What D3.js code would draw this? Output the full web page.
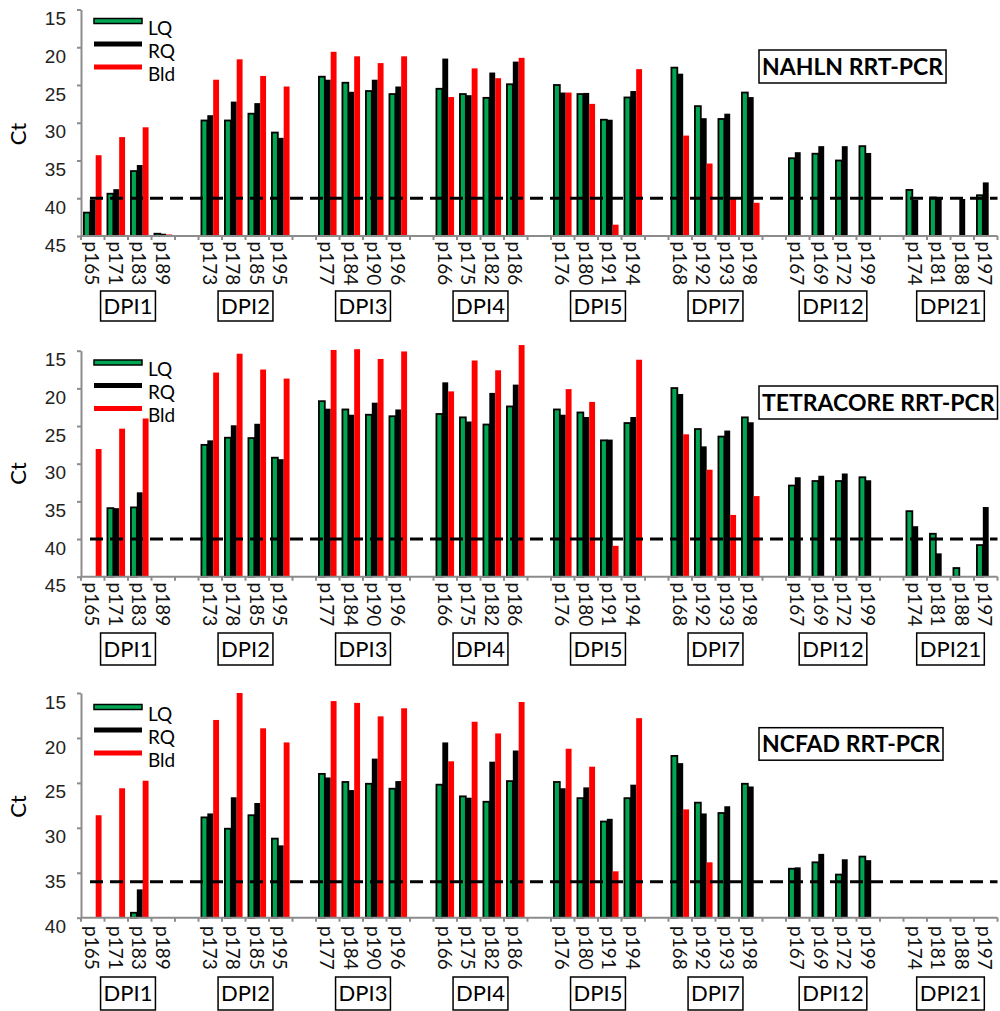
<!DOCTYPE html>
<html>
<head>
<meta charset="utf-8">
<script src="https://cdn.jsdelivr.net/npm/d3@7"></script>
<style>
  body { margin: 0; background: #fff; }
  svg { font-family: Lato, "Open Sans", sans-serif; }
</style>
</head>
<body>
<div id="chart"></div>
<script>
// groups and pigs (x categories)
const dpiGroups = ["DPI1", "DPI2", "DPI3", "DPI4", "DPI5", "DPI7", "DPI12", "DPI21"];
const pigsByGroup = [
    ["p165", "p171", "p183", "p189"],
    ["p173", "p178", "p185", "p195"],
    ["p177", "p184", "p190", "p196"],
    ["p166", "p175", "p182", "p186"],
    ["p176", "p180", "p191", "p194"],
    ["p168", "p192", "p193", "p198"],
    ["p167", "p169", "p172", "p199"],
    ["p174", "p181", "p188", "p197"]
];
const seriesNames = ["LQ", "RQ", "Bld"];
const seriesColors = ["#00a651", "#000000", "#ff0000"];

// Ct values, same pig order as above (null = no value)
const nahlnLQ = [41.9, 39.4, 36.4, 44.7, 29.7, 29.7, 28.8, 31.3, 23.9, 24.7, 25.8, 26.2, 25.5, 26.2, 26.7, 24.9,
    25.0, 26.2, 29.6, 26.65, 22.7, 27.8, 29.5, 26.0, 34.7, 34.1, 35.0, 33.1, 38.9, 39.9, null, 39.6];
const nahlnRQ = [40.2, 38.8, 35.6, 44.7, 29.0, 27.2, 27.4, 32.0, 24.3, 25.9, 24.3, 25.2, 21.5, 26.35, 23.35, 21.9,
    26.0, 26.05, 29.6, 25.8, 23.5, 29.4, 28.8, 26.6, 33.9, 33.1, 33.1, 34.0, 40.2, 39.9, 40.1, 37.9];
const nahlnBld = [34.3, 31.9, 30.6, 44.8, 24.3, 21.6, 23.8, 25.2, 20.6, 21.2, 22.1, 21.2, 26.6, 22.8, 24.1, 21.4,
    26.0, 27.5, 43.5, 22.9, 31.7, 35.4, 40.1, 40.6, null, null, null, null, null, null, null, null];

const tetraLQ = [null, 35.9, 35.8, null, 27.5, 26.55, 26.6, 29.2, 21.7, 22.8, 23.5, 23.7, 23.4, 23.85, 24.8, 22.4,
    22.8, 23.2, 26.9, 24.6, 19.96, 25.4, 26.4, 23.85, 32.9, 32.3, 32.3, 31.8, 36.3, 39.3, 43.85, 40.8];
const tetraRQ = [null, 35.9, 33.8, null, 26.9, 24.9, 24.7, 29.4, 22.7, 23.5, 21.9, 22.8, 19.2, 24.4, 20.6, 19.5,
    23.5, 23.8, 26.8, 23.8, 20.75, 27.7, 25.6, 24.5, 31.8, 31.6, 31.3, 32.2, 38.3, 41.9, null, 35.75];
const tetraBld = [28.05, 25.35, 24.0, null, 17.9, 15.4, 17.5, 18.7, 14.9, 14.8, 16.1, 15.1, 20.4, 16.3, 17.6, 14.25,
    20.1, 21.8, 40.9, 16.2, 26.1, 30.8, 36.8, 34.3, null, null, null, null, null, null, null, null];

const ncfadLQ = [null, null, 39.45, null, 28.84, 30.1, 28.6, 31.2, 24.0, 24.9, 25.1, 25.65, 25.2, 26.5, 27.1, 24.8,
    24.9, 26.7, 29.3, 26.7, 22.0, 27.2, 28.35, 25.1, 34.55, 33.84, 35.2, 33.2, null, null, null, null];
const ncfadRQ = [null, null, 36.85, null, 28.4, 26.6, 27.24, 31.95, 24.4, 25.8, 22.3, 24.8, 20.5, 26.65, 22.64, 21.4,
    25.6, 25.5, 29.0, 25.2, 22.8, 28.4, 27.6, 25.4, 34.4, 32.9, 33.5, 33.6, null, null, null, null];
const ncfadBld = [28.6, 25.6, 24.76, null, 18.0, 15.0, 18.93, 20.5, 15.9, 16.1, 17.6, 16.7, 22.6, 18.2, 19.5, 16.0,
    21.2, 23.2, 34.84, 17.8, 27.95, 33.84, null, null, null, null, null, null, null, null, null, null];

const panelTitles = ["NAHLN RRT-PCR", "TETRACORE RRT-PCR", "NCFAD RRT-PCR"];
const panelDomains = [[15, 45], [15, 45], [15, 40]];
const panelCutoffs = [40, 40, 36];
const yTicks = [[15, 20, 25, 30, 35, 40, 45], [15, 20, 25, 30, 35, 40, 45], [15, 20, 25, 30, 35, 40]];
const panelSeries = [[nahlnLQ, nahlnRQ, nahlnBld], [tetraLQ, tetraRQ, tetraBld], [ncfadLQ, ncfadRQ, ncfadBld]];

// layout of each panel (pixels)
const layouts = [
    { top: 9.5, bottom: 236, ctY: 134, legendY: 21, titleY: 50, titleH: 33, labelY: 241.5, boxY: 291, boxH: 30 },
    { top: 350.7, bottom: 576.7, ctY: 473.5, legendY: 362.5, titleY: 386, titleH: 33, labelY: 582.5, boxY: 633, boxH: 32 },
    { top: 693, bottom: 917.7, ctY: 806.5, legendY: 707, titleY: 727.7, titleH: 32.5, labelY: 926, boxY: 977, boxH: 33 }
];

const axisLeftX = 81, axisRightX = 997.5;
const axisColor = "#8c8c8c";

const svg = d3.select("#chart").append("svg")
    .attr("width", 1000)
    .attr("height", 1011);

// slot keys: pigs, with an empty slot between groups
const slots = [];
pigsByGroup.forEach((pigs, gi) => {
    pigs.forEach(p => slots.push(p));
    if (gi < pigsByGroup.length - 1) slots.push("gap" + gi);
});
const pigs = pigsByGroup.flat();

const x = d3.scaleBand().domain(slots).range([axisLeftX, axisRightX]).padding(0);
const xInner = d3.scaleBand().domain(seriesNames).range([0, x.bandwidth()]).paddingInner(0).paddingOuter(0.5);

function drawPanel(pi) {
    const L = layouts[pi];
    const g = svg.append("g").attr("class", "panel");
    const y = d3.scaleLinear().domain(panelDomains[pi]).range([L.top, L.bottom]);
    const base = y(panelDomains[pi][1]);

    // bars
    seriesNames.forEach((s, si) => {
        const vals = panelSeries[pi][si];
        const data = pigs.map((p, i) => ({ pig: p, value: vals[i] })).filter(d => d.value != null);
        g.append("g").selectAll("rect")
            .data(data)
            .enter()
            .append("rect")
            .attr("x", d => x(d.pig) + xInner(s))
            .attr("y", d => y(d.value))
            .attr("width", xInner.bandwidth())
            .attr("height", d => base - y(d.value))
            .attr("fill", seriesColors[si])
            .attr("stroke", si === 0 ? "#000" : "none")
            .attr("stroke-width", si === 0 ? 1.8 : 0);
    });

    // y axis
    const yAxis = g.append("g")
        .attr("transform", `translate(${axisLeftX},0)`)
        .call(d3.axisLeft(y).tickValues(yTicks[pi]).tickSize(4).tickPadding(11).tickSizeOuter(0));
    yAxis.select(".domain").attr("stroke", axisColor).attr("stroke-width", 2);
    yAxis.selectAll(".tick line").attr("stroke", axisColor).attr("stroke-width", 2);
    yAxis.selectAll(".tick text")
        .attr("y", 9)
        .style("font-size", "19px")
        .attr("fill", "#222");

    // x axis line and ticks at slot boundaries
    g.append("line")
        .attr("x1", axisLeftX).attr("x2", axisRightX)
        .attr("y1", base).attr("y2", base)
        .attr("stroke", axisColor).attr("stroke-width", 2);
    const bounds = slots.map(s => x(s)).concat([axisRightX]);
    g.append("g").selectAll("line")
        .data(bounds)
        .enter()
        .append("line")
        .attr("x1", d => d).attr("x2", d => d)
        .attr("y1", base).attr("y2", base + 4)
        .attr("stroke", axisColor).attr("stroke-width", 2);

    // pig labels (rotated)
    g.append("g").selectAll("text")
        .data(pigs)
        .enter()
        .append("text")
        .attr("transform", d => `translate(${x(d) + x.bandwidth() / 2 - 1},${L.labelY}) rotate(90)`)
        .attr("dy", "0.35em")
        .style("font-size", "19px")
        .attr("fill", "#111")
        .text(d => d);

    // cutoff line
    g.append("line")
        .attr("x1", 90).attr("x2", axisRightX)
        .attr("y1", y(panelCutoffs[pi])).attr("y2", y(panelCutoffs[pi]))
        .attr("stroke", "#000")
        .attr("stroke-width", 3)
        .attr("stroke-dasharray", "13 7");

    // Ct label
    g.append("text")
        .attr("transform", `translate(18,${L.ctY}) rotate(-90)`)
        .attr("text-anchor", "middle")
        .attr("dy", "0.35em")
        .style("font-size", "22px")
        .text("Ct");

    // group boxes
    const boxes = g.append("g").attr("class", "dpi-boxes");
    pigsByGroup.forEach((grp, gi) => {
        const cx = (x(grp[0]) + x(grp[grp.length - 1]) + x.bandwidth()) / 2;
        const t = boxes.append("text")
            .attr("x", cx)
            .attr("y", L.boxY + L.boxH / 2)
            .attr("text-anchor", "middle")
            .attr("dy", "0.36em")
            .style("font-size", "22px")
            .text(dpiGroups[gi]);
        const w = t.node().getComputedTextLength() + 6;
        boxes.append("rect")
            .attr("x", cx - w / 2)
            .attr("y", L.boxY)
            .attr("width", w)
            .attr("height", L.boxH)
            .attr("fill", "none")
            .attr("stroke", "#000")
            .attr("stroke-width", 1.5);
    });

    // legend
    const legend = g.append("g").attr("class", "legend");
    seriesNames.forEach((s, si) => {
        const cy = L.legendY + si * 23;
        legend.append("rect")
            .attr("x", 94).attr("y", cy - 2.5)
            .attr("width", 48).attr("height", 5)
            .attr("fill", seriesColors[si])
            .attr("stroke", si === 0 ? "#000" : "none")
            .attr("stroke-width", 1.5);
        legend.append("text")
            .attr("x", 148)
            .attr("y", cy + 13.5)
            .style("font-size", "19px")
            .text(s);
    });

    // title box
    const title = g.append("text")
        .attr("x", 762)
        .attr("y", L.titleY + L.titleH / 2)
        .attr("dy", "0.36em")
        .style("font-size", "23px")
        .style("font-weight", "bold")
        .text(panelTitles[pi]);
    const tw = title.node().getComputedTextLength();
    g.append("rect")
        .attr("x", 759)
        .attr("y", L.titleY)
        .attr("width", tw + 6)
        .attr("height", L.titleH)
        .attr("fill", "none")
        .attr("stroke", "#000")
        .attr("stroke-width", 1.5);
}

panelTitles.forEach((t, i) => drawPanel(i));
</script>
</body>
</html>
